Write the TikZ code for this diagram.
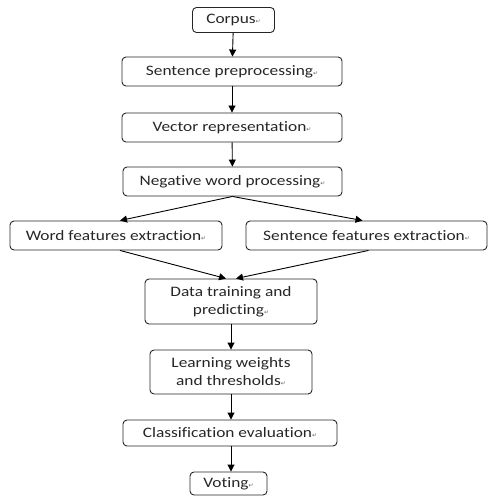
\documentclass[tikz,border=0pt]{standalone}
\usepackage{fontspec}
\setmainfont{Carlito}[Ligatures=NoCommon, FakeStretch=1.2]
\newfontfamily\markfont{DejaVu Sans}
\usetikzlibrary{arrows.meta}
\newcommand{\ret}{{\markfont\fontsize{6}{6}\selectfont\textcolor{black!60}{↵}}}
\tikzset{
   stepbox/.style={draw=black!85, line width=0.9bp, rounded corners=4bp,
      align=center, inner sep=2bp, text=black!85, font=\fontsize{14.5}{18}\selectfont},
   flow/.style={draw=black, line width=0.9bp, -{Triangle[length=7bp,width=7bp]}}
}
\begin{document}
\begin{tikzpicture}[x=1bp, y=-1bp]
   \useasboundingbox (0,0) rectangle (500,500);
   % main column
   \node[stepbox, minimum width=82bp, minimum height=25bp] (corpus) at (233.5,20) {Corpus\ret};
   \node[stepbox, minimum width=220bp, minimum height=29bp] (sentpre) at (232,71.5) {Sentence preprocessing\ret};
   \node[stepbox, minimum width=220bp, minimum height=29bp] (vecrep) at (232,127.5) {Vector representation\ret};
   \node[stepbox, minimum width=219bp, minimum height=29bp] (negword) at (232.5,181.5) {Negative word processing\ret};
   % the two feature branches
   \node[stepbox, minimum width=212bp, minimum height=29bp] (wordfeat) at (116,235.5) {Word features extraction\ret};
   \node[stepbox, minimum width=241bp, minimum height=29bp] (sentfeat) at (366.5,235.5) {Sentence features extraction\ret};
   % lower column
   \node[stepbox, minimum width=172bp, minimum height=45bp] (datatrain) at (231,301.5) {Data training and\\predicting\ret};
   \node[stepbox, minimum width=162bp, minimum height=44bp] (learnw) at (231,372) {Learning weights\\and thresholds\ret};
   \node[stepbox, minimum width=214bp, minimum height=26bp] (classev) at (230,433) {Classification evaluation\ret};
   \node[stepbox, minimum width=77bp, minimum height=23bp] (voting) at (228.5,483.5) {Voting\ret};
   \draw[flow] (corpus) -- (sentpre);
   \draw[flow] (sentpre) -- (vecrep);
   \draw[flow] (vecrep) -- (negword);
   \draw[flow] (negword.south) -- ([xshift=4bp]wordfeat.north);
   \draw[flow] (negword.south) -- ([xshift=-4bp]sentfeat.north);
   \draw[flow] ([xshift=4bp]wordfeat.south) -- ([xshift=-5bp]datatrain.north);
   \draw[flow] ([xshift=2bp]sentfeat.south) -- ([xshift=5bp]datatrain.north);
   \draw[flow] (datatrain) -- (learnw);
   \draw[flow] (learnw) -- (learnw |- classev.north);
   \draw[flow] (classev.south -| learnw) -- (voting.north -| learnw);
\end{tikzpicture}
\end{document}
